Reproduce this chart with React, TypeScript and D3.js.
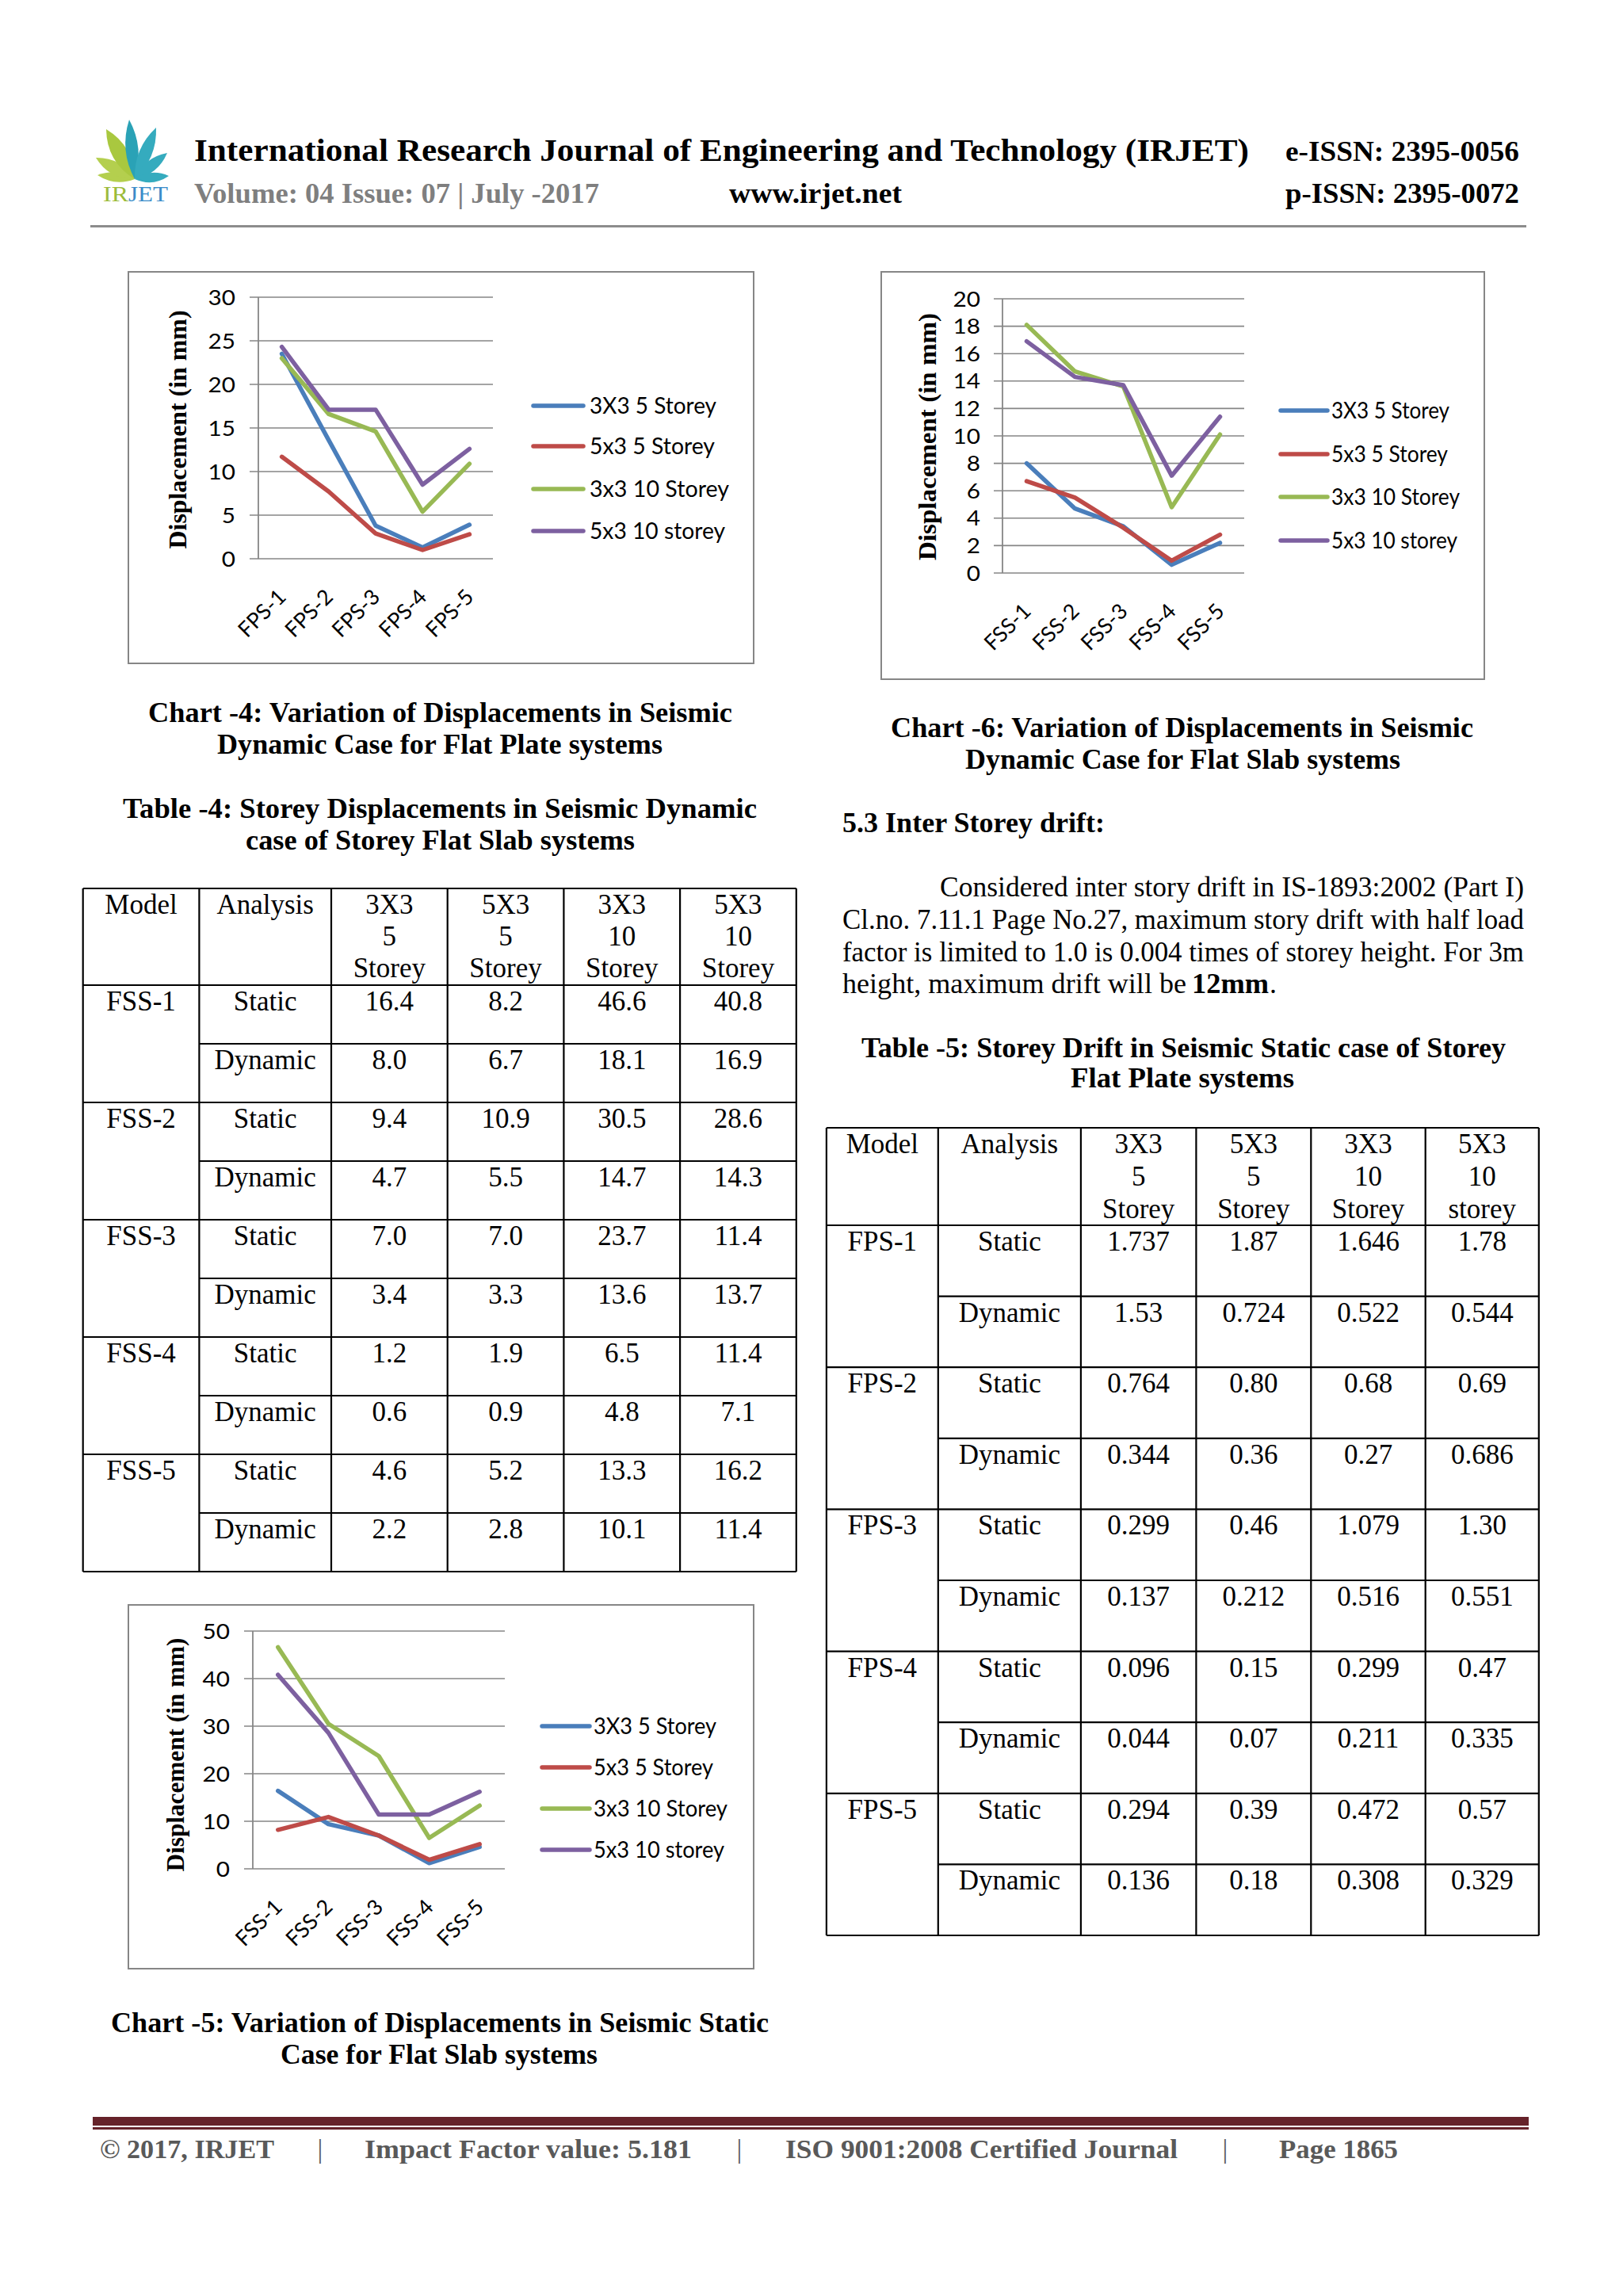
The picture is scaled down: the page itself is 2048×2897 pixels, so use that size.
import React from 'react';
import * as d3 from 'd3';

// ---------- DATA ----------
const seriesNames = ['3X3 5 Storey', '5x3 5 Storey', '3x3 10 Storey', '5x3 10 storey'];
const seriesColors = ['#4A7EBB', '#BE4B48', '#98B954', '#7D60A0'];

const fpsCategories = ['FPS-1', 'FPS-2', 'FPS-3', 'FPS-4', 'FPS-5'];
const fssCategories = ['FSS-1', 'FSS-2', 'FSS-3', 'FSS-4', 'FSS-5'];

// Chart 4
const c4_3x3_5 = [23.5, 13.6, 3.8, 1.3, 3.9];
const c4_5x3_5 = [11.7, 7.7, 2.9, 1.0, 2.8];
const c4_3x3_10 = [23.0, 16.6, 14.6, 5.4, 10.9];
const c4_5x3_10 = [24.3, 17.1, 17.1, 8.5, 12.6];

// Table 4 — FSS displacements
const fssStatic_3x3_5 = [16.4, 9.4, 7.0, 1.2, 4.6];
const fssStatic_5x3_5 = [8.2, 10.9, 7.0, 1.9, 5.2];
const fssStatic_3x3_10 = [46.6, 30.5, 23.7, 6.5, 13.3];
const fssStatic_5x3_10 = [40.8, 28.6, 11.4, 11.4, 16.2];
const fssDynamic_3x3_5 = [8.0, 4.7, 3.4, 0.6, 2.2];
const fssDynamic_5x3_5 = [6.7, 5.5, 3.3, 0.9, 2.8];
const fssDynamic_3x3_10 = [18.1, 14.7, 13.6, 4.8, 10.1];
const fssDynamic_5x3_10 = [16.9, 14.3, 13.7, 7.1, 11.4];

// Table 5 — FPS drift
const fpsStatic_3x3_5 = ['1.737', '0.764', '0.299', '0.096', '0.294'];
const fpsStatic_5x3_5 = ['1.87', '0.80', '0.46', '0.15', '0.39'];
const fpsStatic_3x3_10 = ['1.646', '0.68', '1.079', '0.299', '0.472'];
const fpsStatic_5x3_10 = ['1.78', '0.69', '1.30', '0.47', '0.57'];
const fpsDynamic_3x3_5 = ['1.53', '0.344', '0.137', '0.044', '0.136'];
const fpsDynamic_5x3_5 = ['0.724', '0.36', '0.212', '0.07', '0.18'];
const fpsDynamic_3x3_10 = ['0.522', '0.27', '0.516', '0.211', '0.308'];
const fpsDynamic_5x3_10 = ['0.544', '0.686', '0.551', '0.335', '0.329'];

const table4Header = [['Model'], ['Analysis'], ['3X3', '5', 'Storey'], ['5X3', '5', 'Storey'], ['3X3', '10', 'Storey'], ['5X3', '10', 'Storey']];
const table5Header = [['Model'], ['Analysis'], ['3X3', '5', 'Storey'], ['5X3', '5', 'Storey'], ['3X3', '10', 'Storey'], ['5X3', '10', 'storey']];

// ---------- STYLE ----------
const SERIF = "'Liberation Serif', 'DejaVu Serif', serif";
const SANS = "Lato, 'Open Sans', sans-serif";
const GRID = '#868686';
const BODY = 36;

type TProps = {
  x: number; y: number; children: any; size?: number; weight?: string;
  anchor?: string; len?: number; fill?: string; family?: string;
};
const T = ({ x, y, children, size = BODY, weight = 'normal', anchor = 'start', len, fill = '#000', family = SERIF }: TProps) => (
  <text
    x={x}
    y={y}
    fontSize={size}
    fontWeight={weight}
    textAnchor={anchor as any}
    fill={fill}
    fontFamily={family}
    textLength={len}
    lengthAdjust={len ? 'spacingAndGlyphs' : undefined}
  >
    {children}
  </text>
);

type ChartCfg = {
  frame: [number, number, number, number];
  left: number; right: number; top: number; bottom: number;
  yMax: number; step: number; tickRight: number;
  titleX: number; titleY: number; titleLen: number;
  legLine: [number, number]; legText: number; legRows: number[]; legLens: number[];
};

function LineChart({ cfg, cats, series }: { cfg: ChartCfg; cats: string[]; series: number[][] }) {
  const x = d3.scalePoint<string>().domain(cats).range([cfg.left, cfg.right]).padding(0.5);
  const y = d3.scaleLinear().domain([0, cfg.yMax]).range([cfg.bottom, cfg.top]);
  const ticks = d3.range(0, cfg.yMax + cfg.step / 2, cfg.step);
  const line = d3
    .line<number>()
    .x((_, i) => x(cats[i]) as number)
    .y((d) => y(d));
  const [fx1, fy1, fx2, fy2] = cfg.frame;
  return (
    <g>
      <rect x={fx1} y={fy1} width={fx2 - fx1} height={fy2 - fy1} fill="#fff" stroke={GRID} strokeWidth={2} />
      {ticks.map((t) => (
        <g key={t}>
          <line x1={cfg.left - 11} x2={cfg.right} y1={y(t)} y2={y(t)} stroke={GRID} strokeWidth={1.6} />
          <text
            transform={`translate(${cfg.tickRight},${y(t) + 9.5}) scale(1.1,1)`}
            fontSize={27}
            fontFamily={SANS}
            textAnchor="end"
            fill="#000"
          >
            {t}
          </text>
        </g>
      ))}
      <line x1={cfg.left} x2={cfg.left} y1={cfg.top} y2={cfg.bottom} stroke={GRID} strokeWidth={1.8} />
      {cats.map((c) => (
        <text
          key={c}
          transform={`translate(${(x(c) as number) + 7},${cfg.bottom + 50}) rotate(-45)`}
          fontSize={27}
          fontFamily={SANS}
          textAnchor="end"
          fill="#000"
        >
          {c}
        </text>
      ))}
      <text
        transform={`translate(${cfg.titleX},${cfg.titleY}) rotate(-90)`}
        fontSize={31}
        fontWeight="bold"
        fontFamily={SERIF}
        textAnchor="middle"
        dominantBaseline="central"
        textLength={cfg.titleLen}
        lengthAdjust="spacingAndGlyphs"
        fill="#000"
      >
        Displacement (in mm)
      </text>
      {series.map((s, i) => (
        <path
          key={i}
          d={line(s) || ''}
          fill="none"
          stroke={seriesColors[i]}
          strokeWidth={5.5}
          strokeLinejoin="round"
          strokeLinecap="round"
        />
      ))}
      {seriesNames.map((n, i) => (
        <g key={n}>
          <line
            x1={cfg.legLine[0]}
            x2={cfg.legLine[1]}
            y1={cfg.legRows[i]}
            y2={cfg.legRows[i]}
            stroke={seriesColors[i]}
            strokeWidth={5.5}
            strokeLinecap="round"
          />
          <text
            x={cfg.legText}
            y={cfg.legRows[i] + 10}
            fontSize={28}
            fontFamily={SANS}
            textLength={cfg.legLens[i]}
            lengthAdjust="spacingAndGlyphs"
            fill="#000"
          >
            {n}
          </text>
        </g>
      ))}
    </g>
  );
}

type TableCfg = { cols: number[]; top: number; headerH: number; rowH: number; headerLead: number };

function DataTable({ cfg, header, models, cells }: { cfg: TableCfg; header: string[][]; models: string[]; cells: string[][] }) {
  const { cols, top, headerH, rowH, headerLead } = cfg;
  const nRows = models.length * 2;
  const bodyTop = top + headerH;
  const bottom = bodyTop + nRows * rowH;
  const left = cols[0];
  const right = cols[cols.length - 1];
  const centers = cols.slice(0, -1).map((c, i) => (c + cols[i + 1]) / 2);
  const hLines: any[] = [];
  for (let r = 0; r <= nRows; r++) {
    const yy = bodyTop + r * rowH;
    const x1 = r % 2 === 1 ? cols[1] : left;
    hLines.push(<line key={'h' + r} x1={x1} x2={right} y1={yy} y2={yy} stroke="#000" strokeWidth={2.2} />);
  }
  const fs = 35;
  return (
    <g>
      <line x1={left} x2={right} y1={top} y2={top} stroke="#000" strokeWidth={2.2} />
      {hLines}
      {cols.map((c, i) => (
        <line key={'v' + i} x1={c} x2={c} y1={top} y2={bottom} stroke="#000" strokeWidth={2.2} />
      ))}
      {header.map((lines, ci) =>
        lines.map((ln, li) => (
          <T key={ci + '-' + li} x={centers[ci]} y={top + 32 + li * headerLead} anchor="middle" size={fs}>
            {ln}
          </T>
        ))
      )}
      {models.map((m, mi) => (
        <g key={m}>
          <T x={centers[0]} y={bodyTop + mi * 2 * rowH + 32} anchor="middle" size={fs}>
            {m}
          </T>
          <T x={centers[1]} y={bodyTop + mi * 2 * rowH + 32} anchor="middle" size={fs}>
            Static
          </T>
          <T x={centers[1]} y={bodyTop + (mi * 2 + 1) * rowH + 32} anchor="middle" size={fs}>
            Dynamic
          </T>
        </g>
      ))}
      {cells.map((row, ri) =>
        row.map((v, ci) => (
          <T key={ri + '_' + ci} x={centers[ci + 2]} y={bodyTop + ri * rowH + 32} anchor="middle" size={fs}>
            {v}
          </T>
        ))
      )}
    </g>
  );
}

function Logo() {
  const base: [number, number] = [170, 226];
  const greenTips: [number, number, number][] = [
    [123, 221, 6],
    [121, 199, 8],
    [134, 163, 10],
  ];
  const tealTips: [number, number, number][] = [
    [163, 151, 8],
    [197, 161, 8],
    [211, 193, 7],
    [213, 222, 6],
  ];
  const leaf = ([tx, ty, w]: [number, number, number]) => {
    const [bx, by] = base;
    const mx = (bx + tx) / 2;
    const my = (by + ty) / 2;
    const dx = tx - bx;
    const dy = ty - by;
    const L = Math.hypot(dx, dy);
    const px = (-dy / L) * w * 2;
    const py = (dx / L) * w * 2;
    return `M${bx},${by} Q${mx + px},${my + py} ${tx},${ty} Q${mx - px},${my - py} ${bx},${by} Z`;
  };
  return (
    <g>
      {greenTips.map((t, i) => (
        <path key={'g' + i} d={leaf(t)} fill={i === 2 ? '#A9C83F' : '#B4CF4E'} />
      ))}
      {tealTips.map((t, i) => (
        <path key={'t' + i} d={leaf(t)} fill={i === 0 ? '#2AA2B6' : '#35ABBE'} />
      ))}
      <T x={130} y={254} size={27} len={32} fill="#9CBB3A">IR</T>
      <T x={162} y={254} size={27} len={50} fill="#3A8CC9">JET</T>
    </g>
  );
}

const chart4Cfg: ChartCfg = {
  frame: [162, 343, 951, 837],
  left: 326, right: 622, top: 375, bottom: 705,
  yMax: 30, step: 5, tickRight: 297,
  titleX: 224, titleY: 542, titleLen: 301,
  legLine: [673, 736], legText: 744, legRows: [512, 563, 617, 670], legLens: [160, 158, 176, 171],
};
const chart6Cfg: ChartCfg = {
  frame: [1112, 343, 1873, 857],
  left: 1265, right: 1570, top: 377, bottom: 723,
  yMax: 20, step: 2, tickRight: 1237,
  titleX: 1170, titleY: 551, titleLen: 312,
  legLine: [1616, 1675], legText: 1680, legRows: [518, 573, 627, 682], legLens: [149, 147, 162, 159],
};
const chart5Cfg: ChartCfg = {
  frame: [162, 2025, 951, 2484],
  left: 319, right: 637, top: 2058, bottom: 2358,
  yMax: 50, step: 10, tickRight: 290,
  titleX: 221, titleY: 2214, titleLen: 295,
  legLine: [684, 744], legText: 749, legRows: [2178, 2230, 2282, 2334], legLens: [155, 151, 169, 165],
};

const table4Cfg: TableCfg = { cols: [104.7, 251.4, 418, 564.7, 711.4, 858.1, 1004.8], top: 1121, headerH: 122, rowH: 74, headerLead: 40 };
const table5Cfg: TableCfg = { cols: [1042.9, 1183.8, 1363.9, 1509.4, 1654.3, 1798.7, 1941.8], top: 1423, headerH: 123, rowH: 89.6, headerLead: 41 };

export default function App() {
  const f1 = (v: number) => v.toFixed(1);
  const t4cells: string[][] = [];
  fssCategories.forEach((_, i) => {
    t4cells.push([fssStatic_3x3_5[i], fssStatic_5x3_5[i], fssStatic_3x3_10[i], fssStatic_5x3_10[i]].map(f1));
    t4cells.push([fssDynamic_3x3_5[i], fssDynamic_5x3_5[i], fssDynamic_3x3_10[i], fssDynamic_5x3_10[i]].map(f1));
  });
  const t5cells: string[][] = [];
  fpsCategories.forEach((_, i) => {
    t5cells.push([fpsStatic_3x3_5[i], fpsStatic_5x3_5[i], fpsStatic_3x3_10[i], fpsStatic_5x3_10[i]]);
    t5cells.push([fpsDynamic_3x3_5[i], fpsDynamic_5x3_5[i], fpsDynamic_3x3_10[i], fpsDynamic_5x3_10[i]]);
  });

  return (
    <svg
      width={2048}
      height={2897}
      viewBox="0 0 2048 2897"
      style={{ position: 'absolute', left: 0, top: 0, display: 'block', background: '#fff' }}
    >
      <rect x={0} y={0} width={2048} height={2897} fill="#fff" />

      {/* Header */}
      <Logo />
      <T x={245} y={203} size={41} weight="bold" len={1331}>
        International Research Journal of Engineering and Technology (IRJET)
      </T>
      <T x={1622} y={203} size={35} weight="bold" len={295}>e-ISSN: 2395-0056</T>
      <T x={245} y={256} size={35} weight="bold" len={511} fill="#7F7F7F">Volume: 04 Issue: 07 | July -2017</T>
      <T x={920} y={256} size={35} weight="bold" len={218}>www.irjet.net</T>
      <T x={1622} y={256} size={35} weight="bold" len={295}>p-ISSN: 2395-0072</T>
      <rect x={114} y={284} width={1812} height={3} fill="#8C8C8C" />

      {/* Chart 4 */}
      <LineChart cfg={chart4Cfg} cats={fpsCategories} series={[c4_3x3_5, c4_5x3_5, c4_3x3_10, c4_5x3_10]} />
      <T x={187} y={911} weight="bold" len={737}>Chart -4: Variation of Displacements in Seismic</T>
      <T x={274} y={951} weight="bold" len={562}>Dynamic Case for Flat Plate systems</T>

      {/* Table 4 */}
      <T x={155} y={1032} weight="bold" len={800}>Table -4: Storey Displacements in Seismic Dynamic</T>
      <T x={310} y={1072} weight="bold" len={491}>case of Storey Flat Slab systems</T>
      <DataTable cfg={table4Cfg} header={table4Header} models={fssCategories} cells={t4cells} />

      {/* Chart 5 */}
      <LineChart
        cfg={chart5Cfg}
        cats={fssCategories}
        series={[fssStatic_3x3_5, fssStatic_5x3_5, fssStatic_3x3_10, fssStatic_5x3_10]}
      />
      <T x={140} y={2564} weight="bold" len={830}>Chart -5: Variation of Displacements in Seismic Static</T>
      <T x={354} y={2604} weight="bold" len={400}>Case for Flat Slab systems</T>

      {/* Chart 6 */}
      <LineChart
        cfg={chart6Cfg}
        cats={fssCategories}
        series={[fssDynamic_3x3_5, fssDynamic_5x3_5, fssDynamic_3x3_10, fssDynamic_5x3_10]}
      />
      <T x={1124} y={930} weight="bold" len={735}>Chart -6: Variation of Displacements in Seismic</T>
      <T x={1218} y={970} weight="bold" len={549}>Dynamic Case for Flat Slab systems</T>

      {/* Section 5.3 */}
      <T x={1063} y={1050} weight="bold" len={331}>5.3 Inter Storey drift:</T>
      <T x={1186} y={1131} len={737}>Considered inter story drift in IS-1893:2002 (Part I)</T>
      <T x={1063} y={1172} len={860}>Cl.no. 7.11.1 Page No.27, maximum story drift with half load</T>
      <T x={1063} y={1213} len={860}>factor is limited to 1.0 is 0.004 times of storey height. For 3m</T>
      <T x={1063} y={1253} len={434}>height, maximum drift will be</T>
      <T x={1504} y={1253} weight="bold" len={97}>12mm</T>
      <T x={1602} y={1253}>.</T>

      {/* Table 5 */}
      <T x={1087} y={1334} weight="bold" len={813}>Table -5: Storey Drift in Seismic Static case of Storey</T>
      <T x={1351} y={1372} weight="bold" len={282}>Flat Plate systems</T>
      <DataTable cfg={table5Cfg} header={table5Header} models={fpsCategories} cells={t5cells} />

      {/* Footer */}
      <rect x={117} y={2671} width={1812} height={11} fill="#66232A" />
      <rect x={117} y={2684} width={1812} height={3} fill="#66232A" />
      <T x={126} y={2723} size={33} weight="bold" len={220} fill="#595959">© 2017, IRJET</T>
      <T x={404} y={2723} size={34} anchor="middle" fill="#595959">|</T>
      <T x={460} y={2723} size={33} weight="bold" len={413} fill="#595959">Impact Factor value: 5.181</T>
      <T x={933} y={2723} size={34} anchor="middle" fill="#595959">|</T>
      <T x={991} y={2723} size={33} weight="bold" len={495} fill="#595959">ISO 9001:2008 Certified Journal</T>
      <T x={1546} y={2723} size={34} anchor="middle" fill="#595959">|</T>
      <T x={1614} y={2723} size={33} weight="bold" len={150} fill="#595959">Page 1865</T>
    </svg>
  );
}
